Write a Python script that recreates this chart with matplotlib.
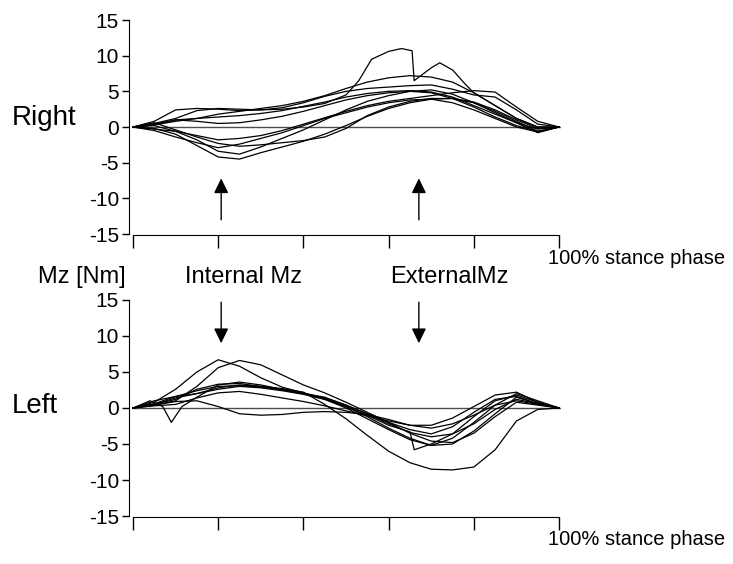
import matplotlib
matplotlib.use("Agg")
import matplotlib.pyplot as plt

plt.rcParams['font.family'] = ['Liberation Sans', 'DejaVu Sans']
plt.rcParams['axes.unicode_minus'] = False

# % of stance phase, common grid
phase = [0, 5, 10, 15, 20, 25, 30, 35, 40, 45, 50, 55, 60, 65, 70, 75, 80, 85, 90, 95, 100]

# Right foot, Mz [Nm]
right_phase_1 = [0, 5, 10, 15, 20, 25, 30, 35, 40, 45, 50, 53, 56, 60, 63, 65.5, 66, 70, 72, 75, 78, 80, 85, 90, 95, 100]
right_1 = [0, 0.5, 1.2, 2.3, 2.6, 2.5, 2.4, 2.5, 2.8, 3.3, 4.5, 6.5, 9.5, 10.6, 11.0, 10.7, 6.5, 8.3, 9.0, 8.0, 6.0, 4.8, 3.0, 1.2, 0.0, 0]
right_2 = [0, 0.3, 0.8, 1.2, 1.8, 2.2, 2.6, 3.0, 3.6, 4.4, 5.4, 6.3, 6.9, 7.2, 7.0, 6.3, 4.8, 3.0, 1.2, 0.0, 0]
right_3 = [0, -0.3, -0.6, -1.2, -1.8, -1.6, -1.2, -0.5, 0.4, 1.3, 2.2, 3.0, 3.6, 4.0, 4.4, 4.8, 5.1, 4.9, 2.8, 0.8, 0]
right_4 = [0, 0.4, 1.0, 1.2, 1.4, 1.6, 1.9, 2.3, 2.9, 3.5, 4.2, 4.7, 5.0, 5.1, 4.9, 4.2, 3.0, 1.8, 0.6, -0.3, 0]
right_5 = [0, -0.2, -1.0, -2.6, -4.2, -4.5, -3.6, -2.8, -2.0, -1.0, 0.2, 1.5, 2.6, 3.4, 3.9, 4.0, 3.4, 2.2, 0.8, -0.6, 0]
right_6 = [0, 0.2, -0.6, -1.8, -3.4, -3.8, -2.8, -1.6, -0.4, 1.0, 2.4, 3.6, 4.4, 5.0, 5.2, 4.6, 3.4, 2.0, 0.6, -0.8, 0]
right_7 = [0, 0.6, -0.4, -1.4, -2.3, -2.7, -2.5, -2.2, -1.9, -1.4, -0.2, 1.6, 2.8, 3.6, 4.0, 4.0, 3.5, 2.4, 1.0, -0.2, 0]
right_8 = [0, 0.8, 2.4, 2.6, 2.5, 2.3, 2.4, 2.7, 3.4, 4.3, 5.0, 5.4, 5.6, 5.8, 5.9, 5.3, 4.5, 4.2, 2.4, 0.4, 0]
right_9 = [0, -0.5, -1.4, -2.2, -2.9, -2.4, -1.6, -0.8, 0.2, 1.2, 2.0, 2.8, 3.4, 3.8, 3.9, 3.4, 2.4, 1.2, 0.0, -0.7, 0]
right_10 = [0, 0.3, 1.0, 0.8, 0.5, 0.6, 1.0, 1.5, 2.2, 3.0, 3.8, 4.4, 4.8, 5.0, 4.8, 4.0, 2.8, 1.4, 0.2, -0.6, 0]

# Left foot, Mz [Nm]
left_1 = [0, 0.8, 2.6, 5.0, 6.7, 5.8, 4.2, 2.9, 2.1, 1.4, 0.4, -0.8, -2.2, -3.4, -4.0, -3.6, -2.2, -0.2, 1.2, 0.6, 0]
left_2 = [0, 0.4, 1.0, 3.0, 5.6, 6.6, 6.0, 4.6, 3.2, 2.1, 0.8, -0.6, -2.0, -3.5, -4.6, -4.8, -3.5, -1.2, 0.8, 0.4, 0]
left_phase_3 = [0, 4, 7, 9, 11.5, 15, 20, 25, 30, 35, 40, 45, 50, 55, 60, 65, 70, 75, 80, 85, 90, 95, 100]
left_3 = [0, 1.0, 0.2, -2.0, 0.2, 1.5, 3.2, 3.6, 3.2, 2.6, 2.0, 1.3, 0.2, -1.2, -2.8, -4.2, -5.2, -5.0, -3.2, -0.8, 1.5, 0.6, 0]
left_4 = [0, 0.4, 0.9, 1.0, 0.2, -0.8, -1.0, -0.9, -0.6, -0.5, -0.6, -0.9, -1.6, -2.4, -2.8, -2.2, -1.0, 0.4, 1.0, 0.5, 0]
left_5 = [0, 0.5, 1.2, 2.6, 3.3, 3.4, 3.0, 2.6, 2.0, 1.2, 0.0, -1.5, -3.0, -4.4, -5.2, -4.2, -2.0, 0.4, 2.0, 1.0, 0]
left_6 = [0, 0.3, 0.5, 1.4, 2.1, 2.3, 1.9, 1.4, 0.9, 0.3, -0.4, -1.1, -1.8, -2.4, -2.4, -1.4, 0.2, 1.8, 2.2, 0.8, 0]
left_7 = [0, 0.5, 1.4, 2.0, 2.8, 3.2, 3.0, 2.7, 2.2, 0.5, -1.5, -3.8, -6.0, -7.6, -8.5, -8.6, -8.2, -5.8, -1.8, -0.2, 0]
left_phase_8 = [0, 5, 10, 15, 20, 25, 30, 35, 40, 45, 50, 55, 60, 65, 66, 70, 75, 80, 85, 90, 95, 100]
left_8 = [0, 1.0, 1.6, 2.0, 2.6, 3.0, 2.8, 2.4, 1.9, 1.2, 0.2, -1.0, -2.4, -3.3, -5.8, -5.0, -3.6, -1.2, 1.0, 1.8, 0.8, 0]
left_9 = [0, 0.6, 1.6, 2.4, 3.0, 3.1, 2.9, 2.5, 2.0, 1.5, 0.4, -0.8, -2.0, -3.0, -3.6, -2.6, -0.6, 1.2, 1.6, 0.6, 0]

yticks = [-15, -10, -5, 0, 5, 10, 15]
xticks = [0, 20, 40, 60, 80, 100]

fig = plt.figure(figsize=(7.33, 5.64), dpi=100)
ax_r = fig.add_axes([0.1756, 0.5851, 0.590, 0.3794])
ax_l = fig.add_axes([0.1756, 0.0851, 0.590, 0.3830])

right_curves = [(right_phase_1, right_1), (phase, right_2), (phase, right_3), (phase, right_4),
                (phase, right_5), (phase, right_6), (phase, right_7), (phase, right_8),
                (phase, right_9), (phase, right_10)]
left_curves = [(phase, left_1), (phase, left_2), (left_phase_3, left_3), (phase, left_4),
               (phase, left_5), (phase, left_6), (phase, left_7), (left_phase_8, left_8),
               (phase, left_9)]

for ax, curves in [(ax_r, right_curves), (ax_l, left_curves)]:
    ax.plot([0, 100.5], [0, 0], color='0.3', lw=1.0)
    for xs, ys in curves:
        ax.plot(xs, ys, color='black', lw=0.9)
    ax.set_xlim(-1, 100.5)
    ax.set_ylim(-15, 15)
    ax.set_yticks(yticks)
    ax.set_xticks(xticks)
    ax.set_xticklabels([])
    ax.spines['top'].set_visible(False)
    ax.spines['right'].set_visible(False)
    ax.spines['left'].set_bounds(-15, 15)
    ax.spines['bottom'].set_bounds(0, 100)
    ax.spines['bottom'].set_position(('outward', 1))
    ax.tick_params(axis='y', direction='out', length=5, width=1, pad=2, labelsize=15)
    ax.tick_params(axis='x', direction='out', length=9, width=1)
    ax.patch.set_alpha(0)

arrow = dict(arrowstyle='-|>,head_length=0.45,head_width=0.22', color='black',
             lw=1, mutation_scale=20, shrinkA=0, shrinkB=0)
for x in [20.7, 67.1]:
    ax_r.annotate('', xy=(x, -7.2), xytext=(x, -13.0), arrowprops=arrow)
    ax_l.annotate('', xy=(x, 9.0), xytext=(x, 14.7), arrowprops=arrow)

H = 564.0
fig.text(12 / 733, (H - 125) / H, 'Right', fontsize=20, va='baseline')
fig.text(12 / 733, (H - 413) / H, 'Left', fontsize=20, va='baseline')
fig.text(38 / 733, (H - 283) / H, 'Mz [Nm]', fontsize=17, va='baseline')
fig.text(185 / 733, (H - 283) / H, 'Internal Mz', fontsize=17, va='baseline')
fig.text(390 / 733, (H - 283) / H, 'ExternalMz', fontsize=17, va='baseline')
fig.text(548 / 733, (H - 264) / H, '100% stance phase', fontsize=14.5, va='baseline')
fig.text(548 / 733, (H - 545) / H, '100% stance phase', fontsize=14.5, va='baseline')

fig.savefig('out.png', dpi=100)
